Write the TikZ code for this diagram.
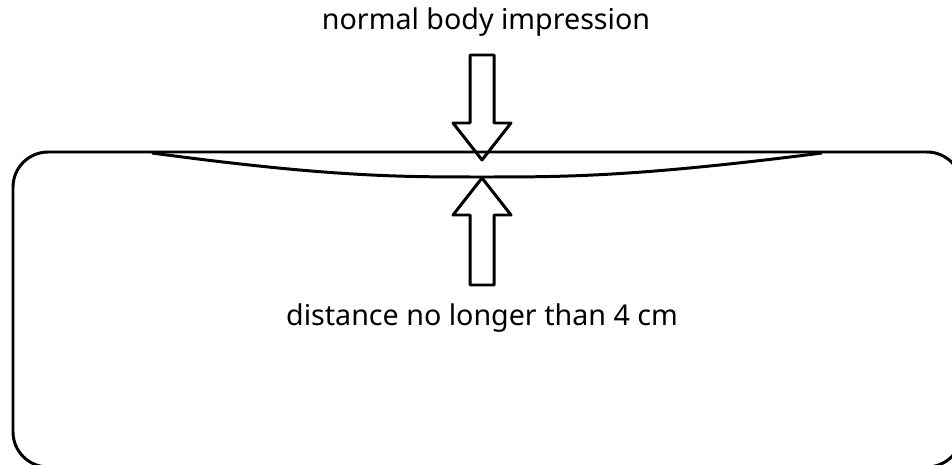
\documentclass[tikz,border=0pt]{standalone}
\usepackage{fontspec}
\setmainfont{Noto Sans}
\usetikzlibrary{calc}

\begin{document}
\begin{tikzpicture}[x=0.02cm,y=-0.02cm,
    outline/.style={line width=1.7pt, line join=round},
    label/.style={font=\fontsize{16.3}{19}\selectfont, inner sep=0pt}]
    % Fix the picture size
    \useasboundingbox (0,0) rectangle (952,465);
    \clip (0,0) rectangle (952,465);

    % Draw the mattress outline
    \draw[outline, rounded corners=20] (13,152) rectangle (962,467);

    % Define the impression end points
    \coordinate (dentL) at (152,153);
    \coordinate (dentR) at (822,153);

    % Draw the lower edge of the impression
    \draw[outline] (dentL) .. controls (330,177) and (400,177) .. (482,177)
        .. controls (564,177) and (634,177) .. (dentR);

    % Tips of the two block arrows
    \coordinate (topTip) at (482,160);
    \coordinate (botTip) at (482,178);

    % Draw the arrow pressing down
    \draw[outline] (topTip) -- ++(-29,-37) -- ++(17,0) -- ++(0,-68)
        -- ++(24,0) -- ++(0,68) -- ++(17,0) -- cycle;

    % Draw the arrow pushing up
    \draw[outline] (botTip) -- ++(-29,37) -- ++(17,0) -- ++(0,70)
        -- ++(24,0) -- ++(0,-70) -- ++(17,0) -- cycle;

    % Labels
    \node[label] (impression) at (486,22) {normal body impression};
    \node[label] (distance) at (482,318) {distance no longer than 4 cm};

\end{tikzpicture}
\end{document}
